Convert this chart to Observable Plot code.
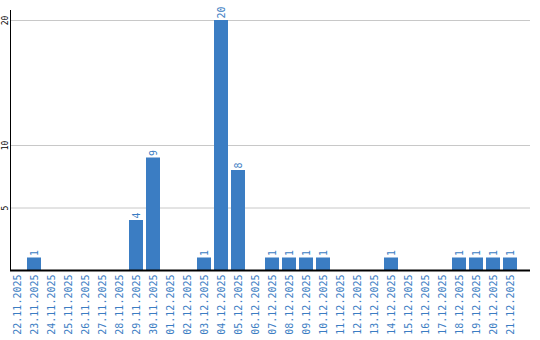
<!DOCTYPE html>
<html>
<head>
<meta charset="utf-8">
<script src="https://cdn.jsdelivr.net/npm/d3@7"></script>
<script src="https://cdn.jsdelivr.net/npm/@observablehq/plot@0.6"></script>
<style>
  html, body { margin: 0; padding: 0; background: #fff; }
  #chart svg { display: block; }
</style>
</head>
<body>
<div id="chart"></div>
<script>
const dates = ["22.11.2025","23.11.2025","24.11.2025","25.11.2025","26.11.2025","27.11.2025","28.11.2025","29.11.2025","30.11.2025","01.12.2025","02.12.2025","03.12.2025","04.12.2025","05.12.2025","06.12.2025","07.12.2025","08.12.2025","09.12.2025","10.12.2025","11.12.2025","12.12.2025","13.12.2025","14.12.2025","15.12.2025","16.12.2025","17.12.2025","18.12.2025","19.12.2025","20.12.2025","21.12.2025"];
const counts = [0,1,0,0,0,0,0,4,9,0,0,1,20,8,0,1,1,1,1,0,0,0,1,0,0,0,1,1,1,1];
const yTicks = [5, 10, 20];

const data = dates.map((d, i) => ({date: d, value: counts[i]}));
const blue = "#3b7dc3";
const font = "DejaVu Sans Mono";

const chart = Plot.plot({
  width: 540,
  height: 340,
  marginLeft: 10,
  marginRight: 10,
  marginTop: 10,
  marginBottom: 70,
  style: {fontFamily: font, background: "#fff"},
  x: {domain: dates, paddingInner: 0.176, paddingOuter: 0.37, align: 0, axis: null},
  y: {domain: [0, 20.8], axis: null},
  marks: [
    Plot.ruleY(yTicks, {stroke: "#c8c8c8", strokeWidth: 1}),
    Plot.barY(data, {x: "date", y: "value", fill: blue}),
    Plot.text(data.filter(d => d.value > 0), {
      x: "date", y: "value", text: d => String(d.value),
      rotate: -90, textAnchor: "start", lineAnchor: "middle",
      dy: -2, fill: blue, fontSize: 10, fontFamily: font
    }),
    Plot.axisX({
      tickSize: 0, tickPadding: 4, tickRotate: -90,
      fontSize: 10, fill: blue, color: blue, fontFamily: font, label: null
    }),
    Plot.text(yTicks, {
      y: d => d, text: d => String(d), frameAnchor: "left",
      rotate: -90, textAnchor: "middle", lineAnchor: "middle",
      dx: -5, fontSize: 8, fill: "#000", fontFamily: font
    }),
    Plot.ruleY([0], {stroke: "#000", strokeWidth: 2}),
    Plot.ruleX([dates[0]], {x: d => d, dx: -7, stroke: "#000", strokeWidth: 1})
  ]
});
document.getElementById("chart").appendChild(chart);
</script>
</body>
</html>
